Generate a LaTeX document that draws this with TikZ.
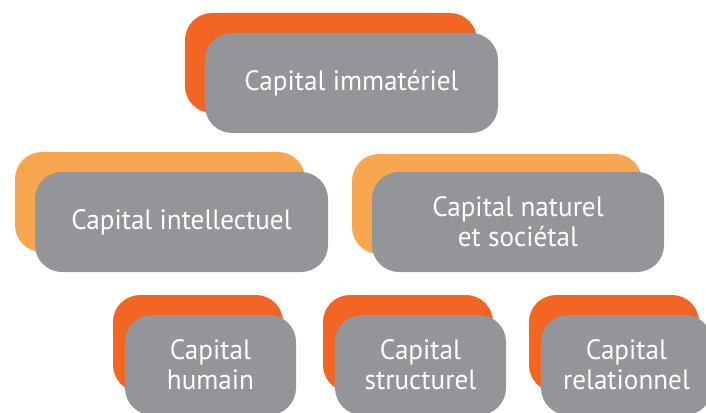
\documentclass[tikz,border=0pt]{standalone}
\usepackage{fontspec}
\setmainfont{PT Sans}[FakeStretch=0.97]

\definecolor{capgray}{HTML}{939598}
\definecolor{capdark}{HTML}{F26522}
\definecolor{caplight}{HTML}{F9A651}

\begin{document}
\begin{tikzpicture}
    [x=1pt,y=-1pt,
     every node/.style={rounded corners=27pt, inner sep=0pt, minimum height=100pt, align=center,
                        text=white, font=\fontsize{28}{30}\selectfont},
     card/.style={fill=capgray}]
    \useasboundingbox (0,0) rectangle (706,412);
    \clip (0,0) rectangle (706,412);

    % top level
    \node[fill=capdark, minimum width=292pt] (immback) at (331,63) {};
    \node[card, minimum width=293pt] (imm) at (351.5,83) {Capital immatériel};

    % second level
    \node[fill=caplight, minimum width=290pt] (intback) at (160,202) {};
    \node[card, minimum width=293pt] (int) at (181.5,222) {Capital intellectuel};
    \node[fill=caplight, minimum width=290pt] (natback) at (497,204) {};
    \node[card, minimum width=292pt] (nat) at (518,222) {Capital naturel\\et sociétal};

    % third level
    \foreach \nm/\x/\txt in {hum/113/Capital\\humain, str/323/Capital\\structurel, rel/529/Capital\\relationnel}
    {
      \node[fill=capdark, minimum width=170pt, minimum height=97pt] (\nm back) at (\x+85,343.5) {};
      \node[card, minimum width=171pt] (\nm) at (\x+97.5,365) {\txt};
    }
\end{tikzpicture}
\end{document}
